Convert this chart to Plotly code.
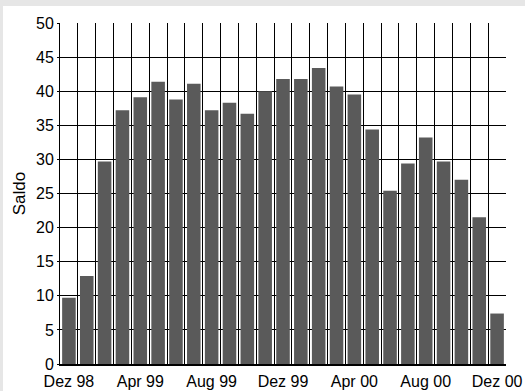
import plotly.graph_objects as go

months = ["Dez 98", "Jan 99", "Fev 99", "Mar 99", "Apr 99", "Mai 99", "Jun 99", "Jul 99",
          "Aug 99", "Set 99", "Out 99", "Nov 99", "Dez 99", "Jan 00", "Fev 00", "Mar 00",
          "Apr 00", "Mai 00", "Jun 00", "Jul 00", "Aug 00", "Set 00", "Out 00", "Nov 00", "Dez 00"]
saldo = [9.7, 12.9, 29.7, 37.2, 39.1, 41.4, 38.8, 41.1, 37.2, 38.3, 36.7, 40.0, 41.8,
         41.8, 43.4, 40.7, 39.5, 34.4, 25.4, 29.4, 33.2, 29.7, 27.0, 21.5, 7.4]
tick_labels = ["Dez 98", "Apr 99", "Aug 99", "Dez 99", "Apr 00", "Aug 00", "Dez 00"]
y_ticks = [0, 5, 10, 15, 20, 25, 30, 35, 40, 45, 50]

x = list(range(len(months)))
tick_pos = [months.index(t) for t in tick_labels]

fig = go.Figure(go.Bar(x=x, y=saldo, marker=dict(color="#5a5a5a", line=dict(width=0)),
                       hovertext=months, name="Saldo"))

font = dict(family="Liberation Sans, Arial, sans-serif", size=16, color="#000000")

fig.update_layout(
    width=522, height=385,
    margin=dict(l=57, r=19, t=17, b=27),
    paper_bgcolor="#ffffff", plot_bgcolor="#ffffff",
    bargap=0.24,
    showlegend=False,
    font=font,
    xaxis=dict(
        range=[-0.5, len(months) - 0.5], automargin=False,
        tickmode="array", tickvals=tick_pos, ticktext=tick_labels,
        showgrid=False, ticks="outside", ticklen=2, tickcolor="rgba(0,0,0,0)",
        zeroline=False,
        showline=True, linecolor="#000000", linewidth=2,
        minor=dict(tick0=0.5, dtick=1, showgrid=True, gridcolor="#000000", gridwidth=1, ticks=""),
        tickfont=font,
    ),
    yaxis=dict(
        range=[0, 50], tickvals=y_ticks, automargin=False,
        showgrid=True, gridcolor="#000000", gridwidth=1,
        zeroline=False, showline=True, linecolor="#000000", linewidth=1,
        ticks="outside", ticklen=2, tickcolor="#000000",
        title=dict(text="Saldo", font=dict(family="Liberation Sans, Arial, sans-serif", size=17, color="#000000"), standoff=6),
        tickfont=font,
    ),
)

post = """
document.body.style.margin = '6px 0 0 3px';
document.body.style.background = '#e6e6e6';
document.body.style.overflow = 'hidden';
"""
fig.write_html("out.html", post_script=post)
